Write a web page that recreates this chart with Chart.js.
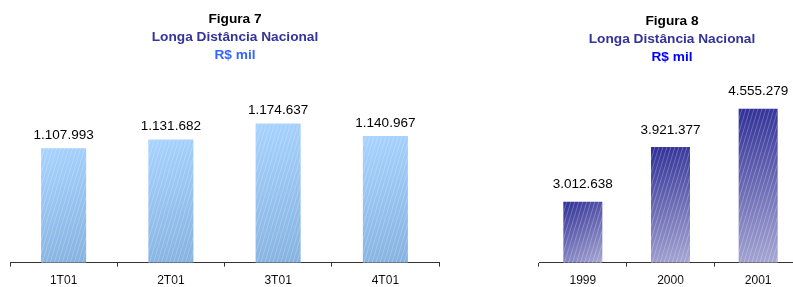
<!DOCTYPE html>
<html>
<head>
<meta charset="utf-8">
<script src="https://cdn.jsdelivr.net/npm/chart.js@4/dist/chart.umd.min.js"></script>
<style>
  html, body { margin: 0; padding: 0; background: #fff; }
  body { width: 793px; height: 287px; position: relative; overflow: hidden; font-family: "Liberation Sans", Arial, sans-serif; }
  .box { position: absolute; }
  .title { position: absolute; width: 300px; text-align: center; font-weight: bold; font-size: 13.7px; line-height: 18px; z-index: 2; }
  .title .t1 { color: #000; }
  .title .t2 { color: #333399; }
</style>
</head>
<body>
<div class="title" style="left:85px; top:10px;">
  <div class="t1">Figura 7</div>
  <div class="t2">Longa Distância Nacional</div>
  <div style="color:#3366FF">R$ mil</div>
</div>
<div class="title" style="left:522px; top:12px;">
  <div class="t1">Figura 8</div>
  <div class="t2">Longa Distância Nacional</div>
  <div style="color:#0000FF">R$ mil</div>
</div>

<div class="box" style="left:5px; top:0; width:439px; height:295px;"><canvas id="fig7"></canvas></div>
<div class="box" style="left:534px; top:0; width:273px; height:295px;"><canvas id="fig8"></canvas></div>

<script>
// Figura 7 - trimestres 2001
const quarters = ["1T01", "2T01", "3T01", "4T01"];
const quarterValues = [1107993, 1131682, 1174637, 1140967];

// Figura 8 - anos
const years = ["1999", "2000", "2001"];
const yearValues = [3012638, 3921377, 4555279];

function fmt(v) {
  return String(v).replace(/\B(?=(\d{3})+(?!\d))/g, ".");
}

// diagonal gradient per bar, from top-left to bottom-right
function barGradient(c1, c2, pct) {
  return function (context) {
    let chart = context.chart;
    let xs = chart.scales.x;
    let ys = chart.scales.y;
    if (!xs || !ys || context.dataIndex === undefined) return c1;
    let n = chart.data.labels.length;
    let half = (xs.width / n) * pct / 2;
    let cx = xs.getPixelForValue(context.dataIndex);
    let top = ys.getPixelForValue(context.raw);
    let bottom = ys.bottom;
    if (![half, cx, top, bottom].every(isFinite)) return c1;
    let g = chart.ctx.createLinearGradient(cx - half, top, cx + half, bottom);
    g.addColorStop(0, c1);
    g.addColorStop(1, c2);
    return g;
  };
}

// value labels above bars + light diagonal texture
const barExtras = {
  id: "barExtras",
  afterDatasetsDraw(chart, args, opts) {
    let c = chart.ctx;
    let meta = chart.getDatasetMeta(0);
    let values = chart.data.datasets[0].data;
    let slope = 0.3;
    meta.data.forEach(function (bar, i) {
      let left = bar.x - bar.width / 2;
      let right = bar.x + bar.width / 2;
      let rise = bar.base;
      c.save();
      c.beginPath();
      c.rect(left, bar.y, bar.width, bar.base - bar.y);
      c.clip();
      c.strokeStyle = opts.stripe;
      c.lineWidth = 1;
      for (let x = left - rise * slope; x < right + 2; x += opts.step) {
        c.beginPath();
        c.moveTo(x, bar.base);
        c.lineTo(x + rise * slope, 0);
        c.stroke();
      }
      c.restore();

      c.save();
      c.fillStyle = "#000";
      c.font = "13.5px 'Liberation Sans', Arial, sans-serif";
      c.textAlign = "center";
      c.textBaseline = "middle";
      c.fillText(fmt(values[i]), bar.x, bar.y - opts.gap);
      c.restore();
    });
  },
};

function makeOptions(min, max, padTop, stripe, step, gap) {
  return {
    responsive: true,
    maintainAspectRatio: false,
    animation: false,
    layout: { padding: { top: padTop, left: 5, right: 5, bottom: 0 } },
    plugins: {
      legend: { display: false },
      tooltip: { enabled: false },
      barExtras: { stripe: stripe, step: step, gap: gap },
    },
    scales: {
      x: {
        grid: { display: true, drawOnChartArea: false, drawTicks: true, tickLength: 4, color: "#333", offset: true },
        border: { display: true, color: "#333", width: 1 },
        ticks: { color: "#000", padding: 7, font: { size: 12, family: "'Liberation Sans', Arial, sans-serif" } },
      },
      y: {
        display: false,
        min: min,
        max: max,
      },
    },
  };
}

var fig7 = new Chart(document.getElementById("fig7").getContext("2d"), {
  type: "bar",
  data: {
    labels: quarters,
    datasets: [
      {
        label: "",
        data: quarterValues,
        backgroundColor: barGradient("#A8D3FF", "#86B2E0", 0.42),
        categoryPercentage: 1,
        barPercentage: 0.42,
        borderWidth: 0,
      },
    ],
  },
  options: makeOptions(800000, 1300000, 77, "rgba(255,255,255,0.22)", 4, 13),
  plugins: [barExtras],
});

var fig8 = new Chart(document.getElementById("fig8").getContext("2d"), {
  type: "bar",
  data: {
    labels: years,
    datasets: [
      {
        label: "",
        data: yearValues,
        backgroundColor: barGradient("#2E2E96", "#A8A8D4", 0.445),
        categoryPercentage: 1,
        barPercentage: 0.445,
        borderWidth: 0,
      },
    ],
  },
  options: makeOptions(2000000, 5000000, 82, "rgba(255,255,255,0.25)", 4, 17),
  plugins: [barExtras],
});
</script>
</body>
</html>
